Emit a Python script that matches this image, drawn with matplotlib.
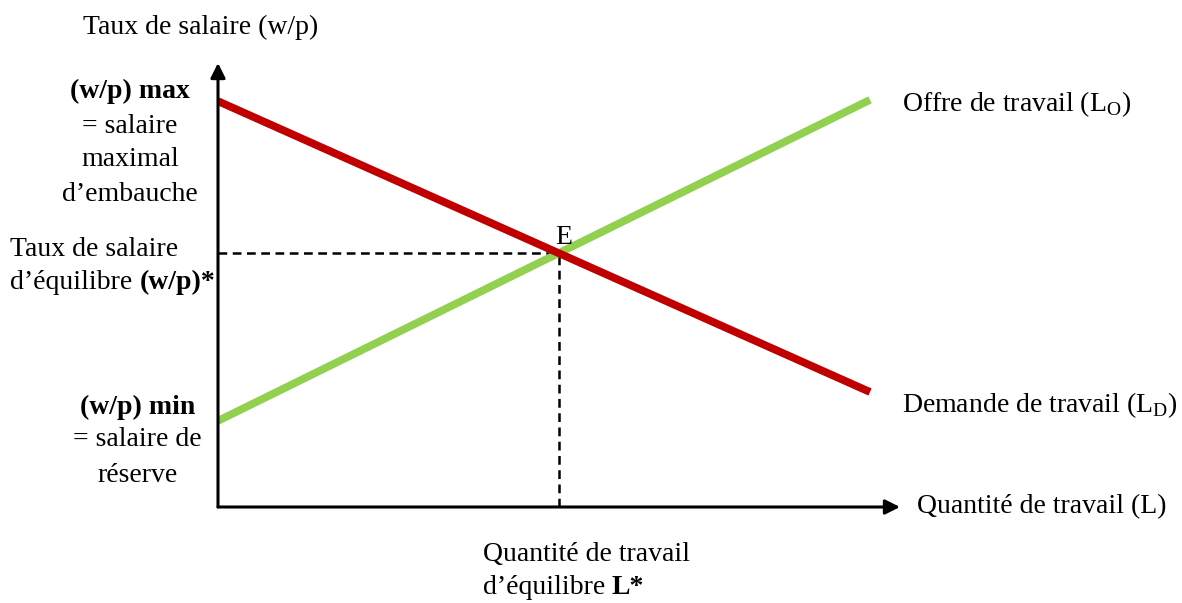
import numpy as np
import matplotlib
matplotlib.use('Agg')
import matplotlib.pyplot as plt

plt.rcParams['font.family'] = ['Liberation Serif', 'DejaVu Serif']
plt.rcParams['mathtext.fontset'] = 'custom'
plt.rcParams['mathtext.rm'] = 'Liberation Serif'
plt.rcParams['mathtext.bf'] = 'Liberation Serif:bold'

# quantity of labour (L) at both ends of the curves
L_ends = [0.0, 10.0]
# labour demand (red) and labour supply (green), wage rate at both ends
demand_w = [9.14, 2.59]
supply_w = [1.94, 9.17]

# equilibrium point from the two straight lines
a_d = (demand_w[1] - demand_w[0]) / (L_ends[1] - L_ends[0])
a_s = (supply_w[1] - supply_w[0]) / (L_ends[1] - L_ends[0])
L_eq = (demand_w[0] - supply_w[0]) / (a_s - a_d)
w_eq = demand_w[0] + a_d * L_eq

fs = 20

fig = plt.figure(figsize=(11.82, 6.03), dpi=100)
ax = fig.add_axes([218 / 1182, 96 / 603, 682 / 1182, 444 / 603])
ax.set_xlim(0, 10.46)
ax.set_ylim(0, 10.0)
ax.axis('off')

# axes with arrow heads
for tip in [(1, 0), (0, 1)]:
    ax.annotate('', xy=tip, xytext=(0, 0), xycoords='axes fraction',
                arrowprops=dict(arrowstyle='-|>', lw=2.2, color='black',
                                mutation_scale=22, shrinkA=0, shrinkB=0))

# dashed guides to the equilibrium
ax.plot([0, L_eq], [w_eq, w_eq], color='black', lw=1.8, dashes=(3.5, 2.2))
ax.plot([L_eq, L_eq], [0, w_eq], color='black', lw=1.8, dashes=(3.5, 2.2))

ax.plot(L_ends, supply_w, color='#92D050', lw=5.6, solid_capstyle='butt')
ax.plot(L_ends, demand_w, color='#C00000', lw=5.6, solid_capstyle='butt')

kw = dict(fontsize=fs, clip_on=False, va='center')
ax.text(-0.26, 10.81, 'Taux de salaire (w/p)', ha='center', **kw)

ax.text(-1.35, 9.35, '(w/p) max', ha='center', fontweight='bold', **kw)
ax.text(-1.35, 8.56, '= salaire', ha='center', **kw)
ax.text(-1.35, 7.82, 'maximal', ha='center', **kw)
ax.text(-1.35, 7.03, 'd\u2019embauche', ha='center', **kw)

ax.text(-3.19, 5.81, 'Taux de salaire', ha='left', **kw)
t = ax.text(-3.19, 5.05, 'd\u2019équilibre ', ha='left', **kw)
ax.annotate('(w/p)*', xy=(1, 0.5), xycoords=t, ha='left', va='center',
            fontsize=fs, fontweight='bold')

ax.text(-1.24, 2.25, '(w/p) min', ha='center', fontweight='bold', **kw)
ax.text(-1.24, 1.51, '= salaire de', ha='center', **kw)
ax.text(-1.24, 0.72, 'réserve', ha='center', **kw)

ax.text(L_eq + 0.07, w_eq + 0.35, 'E', ha='center', **kw)

ax.text(10.49, 9.08, 'Offre de travail (L$_\\mathrm{O}$)', ha='left', **kw)
ax.text(10.49, 2.30, 'Demande de travail (L$_\\mathrm{D}$)', ha='left', **kw)
ax.text(10.72, 0.0, 'Quantité de travail (L)', ha='left', **kw)

ax.text(4.06, -1.08, 'Quantité de travail', ha='left', **kw)
t = ax.text(4.06, -1.82, 'd\u2019équilibre ', ha='left', **kw)
ax.annotate('L*', xy=(1, 0.5), xycoords=t, ha='left', va='center',
            fontsize=fs, fontweight='bold')

fig.savefig('out.png', dpi=100)
